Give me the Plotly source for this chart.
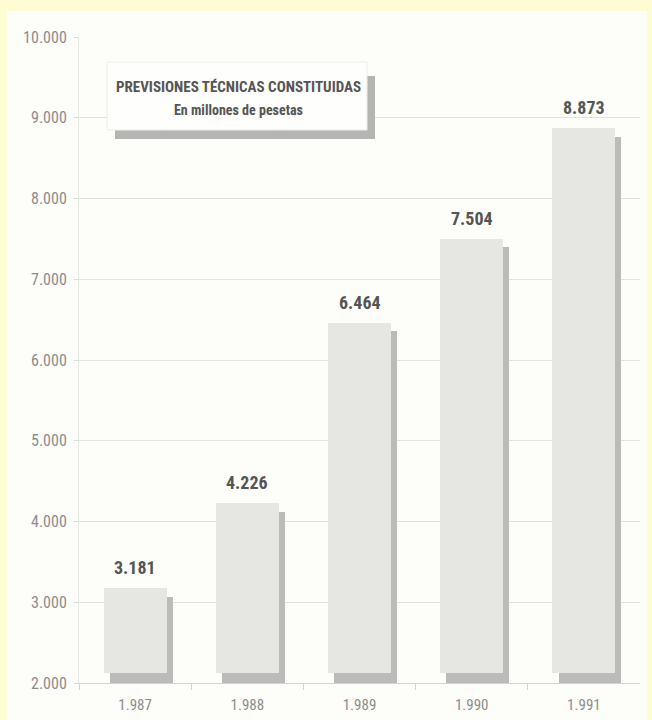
import plotly.graph_objects as go

years = ["1.987", "1.988", "1.989", "1.990", "1.991"]
values = [3181, 4226, 6464, 7504, 8873]
value_labels = ["3.181", "4.226", "6.464", "7.504", "8.873"]
y_ticks = [2000, 3000, 4000, 5000, 6000, 7000, 8000, 9000, 10000]
y_tick_labels = ["2.000", "3.000", "4.000", "5.000", "6.000", "7.000", "8.000", "9.000", "10.000"]
title_line1 = "PREVISIONES TÉCNICAS CONSTITUIDAS"
title_line2 = "En millones de pesetas"

W, H = 652, 720
L, R, T, B = 79, 640, 37, 683

def px_x(p):
    return (p - L) / (R - L)

def px_y(p):
    return (B - p) / (B - T)

FONT = "Liberation Sans Narrow, Arial Narrow, Roboto Condensed, Liberation Sans, sans-serif"
YELLOW = "#FDFCD2"
front_base = 2125
shadow_drop = 110
bar_w = 0.56
shadow_dx = 0.055
idx = list(range(len(years)))

fig = go.Figure()
# shadow bars
fig.add_trace(go.Bar(
    x=idx, y=[v - shadow_drop - 2000 for v in values], base=2000,
    width=bar_w, offset=-bar_w / 2 + shadow_dx,
    marker=dict(color="#BBBBB9", line=dict(width=0)), hoverinfo="skip", showlegend=False))
# front bars
fig.add_trace(go.Bar(
    x=idx, y=[v - front_base for v in values], base=front_base,
    width=bar_w, offset=-bar_w / 2,
    marker=dict(color="#E6E6E3", line=dict(width=0)), hoverinfo="skip", showlegend=False))

for i, v, lab in zip(idx, values, value_labels):
    fig.add_annotation(x=i, y=v, text="<b>" + lab + "</b>", showarrow=False,
                       yanchor="bottom", yshift=8,
                       font=dict(family=FONT, size=18, color="#555555"))

shapes = [
    # inner white panel
    dict(type="rect", xref="paper", yref="paper", layer="below",
         x0=px_x(7), x1=px_x(647), y0=px_y(740), y1=px_y(11),
         fillcolor="#FDFDFA", line=dict(width=0)),
    # title box shadow
    dict(type="rect", xref="paper", yref="paper", layer="above",
         x0=px_x(115), x1=px_x(375), y0=px_y(139), y1=px_y(76),
         fillcolor="#B5B5B3", line=dict(width=0)),
    # title box
    dict(type="rect", xref="paper", yref="paper", layer="above",
         x0=px_x(107), x1=px_x(367), y0=px_y(130), y1=px_y(62),
         fillcolor="#FEFEFC", line=dict(width=1, color="#EDEDE8")),
]

fig.add_annotation(xref="paper", yref="paper", x=px_x(238), y=px_y(87),
                   text="<b>" + title_line1 + "</b>", showarrow=False,
                   xanchor="center", yanchor="middle",
                   font=dict(family=FONT, size=15, color="#555555"))
fig.add_annotation(xref="paper", yref="paper", x=px_x(238), y=px_y(110),
                   text="<b>" + title_line2 + "</b>", showarrow=False,
                   xanchor="center", yanchor="middle",
                   font=dict(family=FONT, size=14, color="#555555"))

fig.update_layout(
    width=W, height=H,
    margin=dict(l=L, r=W - R, t=T, b=H - B, pad=0),
    paper_bgcolor=YELLOW,
    plot_bgcolor="rgba(0,0,0,0)",
    barmode="overlay",
    shapes=shapes,
    bargap=0,
    font=dict(family=FONT),
)
fig.update_xaxes(
    range=[-0.5, len(years) - 0.5],
    tickvals=idx, ticktext=years, ticks="", showline=True,
    linecolor="#D5D5D0", linewidth=1, showgrid=False, zeroline=False,
    minor=dict(tickvals=[i - 0.5 for i in idx], ticks="outside", ticklen=6,
               tickcolor="#D5D5D0", showgrid=False),
    ticklabelstandoff=8, automargin=False,
    tickfont=dict(family=FONT, size=15, color="#8C8C8C"),
)
fig.update_yaxes(
    range=[2000, 10000], tickvals=y_ticks, ticktext=y_tick_labels,
    ticks="outside", ticklen=4, tickcolor="#DADAD5",
    showgrid=True, gridcolor="#E2E2DC", gridwidth=1, zeroline=False,
    showline=True, linecolor="#EAEAE5", linewidth=1, automargin=False,
    ticklabelstandoff=4,
    tickfont=dict(family=FONT, size=16, color="#8C8C8C"),
)

fig.write_html("out.html", config={"displayModeBar": False},
               post_script="document.body.style.margin='0';document.body.style.background='" + YELLOW + "';")
